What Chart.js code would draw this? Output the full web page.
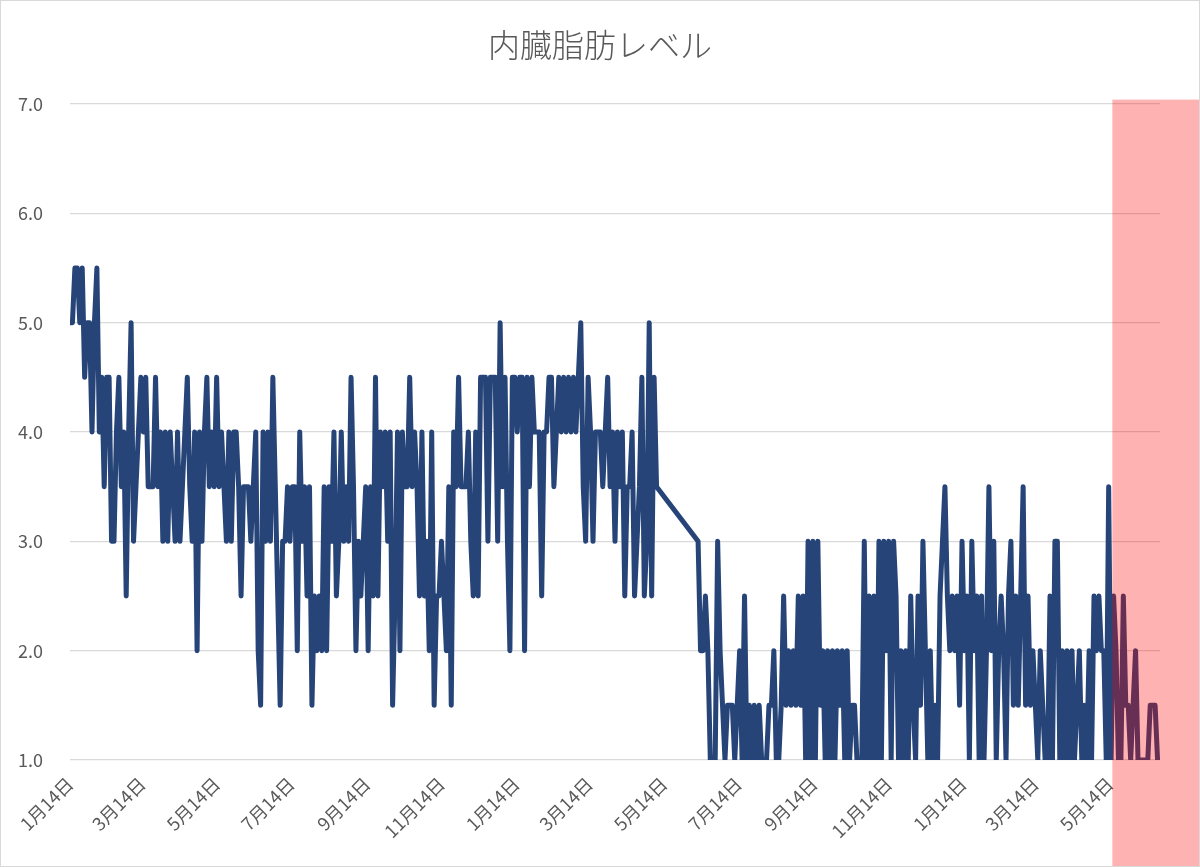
<!DOCTYPE html>
<html>
<head>
<meta charset="utf-8">
<script src="https://cdn.jsdelivr.net/npm/chart.js@4.4.1/dist/chart.umd.min.js"></script>
<style>
  html, body { margin: 0; padding: 0; background: #ffffff; }
  #wrap { width: 1200px; height: 867px; position: relative; }
</style>
</head>
<body>
<div id="wrap"><canvas id="c"></canvas></div>
<script>
// ---- data ----
const chartTitle = '内臓脂肪レベル';

// tick positions as day offsets from the first measurement (1月14日)
const tickDays   = [0, 59, 120, 181, 243, 304, 365, 425, 486, 547, 609, 670, 731, 790, 851];
const tickLabels = ['1月14日','3月14日','5月14日','7月14日','9月14日','11月14日',
                    '1月14日','3月14日','5月14日','7月14日','9月14日','11月14日',
                    '1月14日','3月14日','5月14日'];

const yMin = 1, yMax = 7;
const stepDays = 2;

// first period: day 0 .. 480, every 2 days
const startDayA = 0;
const levelsA = [
  5.0,5.0,5.5,5.5,5.0,5.5,4.5,5.0,5.0,4.0,
  5.0,5.5,4.0,4.5,3.5,4.5,4.5,3.0,3.0,4.0,
  4.5,3.5,4.0,2.5,4.0,5.0,3.0,3.5,4.0,4.5,
  4.0,4.5,3.5,3.5,3.5,4.5,3.5,4.0,3.0,4.0,
  3.0,4.0,3.5,3.0,4.0,3.0,3.5,4.0,4.5,3.5,
  3.0,4.0,2.0,4.0,3.0,4.0,4.5,3.5,4.0,3.5,
  4.5,3.5,4.0,3.5,3.0,4.0,3.0,4.0,4.0,3.5,
  2.5,3.5,3.5,3.5,3.0,3.5,4.0,2.0,1.5,4.0,
  3.0,4.0,3.0,4.5,3.5,2.5,1.5,3.0,3.0,3.5,
  3.0,3.5,3.5,2.0,4.0,3.0,3.5,2.5,3.5,1.5,
  2.5,2.0,2.5,2.0,3.5,2.0,3.5,3.0,4.0,2.5,
  3.0,4.0,3.0,3.5,3.0,4.5,3.5,2.0,3.0,2.5,
  3.0,3.5,2.0,3.5,2.5,4.5,2.5,4.0,3.5,4.0,
  3.0,4.0,1.5,2.5,4.0,2.0,4.0,3.5,3.5,4.5,
  3.5,4.0,3.5,2.5,4.0,2.5,3.0,2.0,4.0,1.5,
  2.5,2.5,3.0,2.5,2.0,3.5,1.5,4.0,3.5,4.5,
  3.5,3.5,3.5,4.0,3.0,2.5,4.0,2.5,4.5,4.5,
  4.5,3.0,4.5,4.5,4.5,3.0,5.0,3.5,4.5,3.0,
  2.0,4.5,4.5,4.0,4.5,4.5,2.0,4.5,3.5,4.5,
  4.0,4.0,4.0,2.5,4.0,4.0,4.5,4.5,3.5,4.0,
  4.5,4.0,4.5,4.0,4.5,4.0,4.5,4.0,4.5,5.0,
  3.5,3.0,4.5,4.0,3.0,4.0,4.0,4.0,3.5,4.0,
  4.5,3.5,4.0,3.0,4.0,3.5,4.0,2.5,3.5,3.5,
  4.0,2.5,3.0,3.5,4.5,2.5,3.0,5.0,2.5,4.5,3.5
];

// second period (after the gap): day 514 .. 892, every 2 days
const startDayB = 514;
const levelsB = [
  3.0,2.0,2.0,2.5,2.0,1.0,1.0,1.0,3.0,2.0,
  1.5,1.0,1.5,1.5,1.5,1.0,1.5,2.0,1.0,2.5,
  1.0,1.5,1.0,1.5,1.0,1.5,1.0,1.0,1.0,1.5,
  1.5,2.0,1.0,1.0,1.5,2.5,1.5,2.0,1.5,2.0,
  1.5,2.5,1.5,2.5,1.0,3.0,1.0,3.0,1.0,3.0,
  1.5,2.0,1.0,2.0,1.0,2.0,1.0,2.0,1.5,2.0,
  1.0,2.0,1.0,1.5,1.5,1.0,1.0,1.0,3.0,1.0,
  2.5,1.0,2.5,1.0,3.0,1.0,3.0,2.0,3.0,1.0,
  3.0,2.5,1.0,2.0,1.0,2.0,1.0,2.5,1.5,1.0,
  2.5,1.5,3.0,2.0,1.0,2.0,1.0,1.5,1.0,2.5,
  3.0,3.5,2.5,2.0,2.5,2.0,2.5,1.5,3.0,2.0,
  2.5,1.0,3.0,2.0,2.5,1.0,2.5,1.0,2.0,3.5,
  2.0,3.0,1.0,2.0,2.5,2.0,1.0,2.5,3.0,1.5,
  2.5,1.5,2.5,3.5,1.5,2.5,1.5,2.0,1.5,1.0,
  2.0,1.5,1.0,1.0,2.5,1.0,3.0,3.0,1.0,2.0,
  1.0,2.0,1.0,2.0,1.0,1.5,2.0,1.0,1.5,1.0,
  2.0,1.0,2.5,2.0,2.5,2.0,2.0,1.0,3.5,1.0,
  2.5,2.0,1.0,1.0,2.5,1.5,1.5,1.0,1.5,2.0,
  1.0,1.0,1.0,1.0,1.0,1.5,1.5,1.5,1.0,1.0
];

// highlighted recent period
const highlightFromDay = 853;
const highlightTopValue = 7.04;

// ---- build points ----
const points = [];
levelsA.forEach((v, i) => points.push({ x: startDayA + i * stepDays, y: v }));
levelsB.forEach((v, i) => points.push({ x: startDayB + i * stepDays, y: v }));
const lastDay = startDayB + (levelsB.length - 1) * stepDays;

const FONT = "'Noto Sans CJK JP', 'Noto Sans', sans-serif";
Chart.defaults.font.family = FONT;
Chart.defaults.color = '#595959';

// title centred on the whole picture, highlight band and outer frame
const overlay = {
  id: 'overlay',
  afterDraw(chart) {
    const { ctx, scales } = chart;
    const left = scales.x.getPixelForValue(highlightFromDay);
    const top = scales.y.getPixelForValue(highlightTopValue);
    ctx.save();
    ctx.fillStyle = 'rgba(255,0,0,0.3)';
    ctx.fillRect(left, top, chart.width - 1 - left, chart.height - top);
    ctx.strokeStyle = '#d9d9d9';
    ctx.lineWidth = 1;
    ctx.strokeRect(0.5, 0.5, chart.width - 1, chart.height - 1);
    ctx.fillStyle = '#595959';
    ctx.font = '300 32px ' + FONT;
    ctx.textAlign = 'center';
    ctx.textBaseline = 'middle';
    ctx.fillText(chartTitle, chart.width / 2, 45);
    ctx.restore();
  }
};

new Chart(document.getElementById('c'), {
  type: 'line',
  data: {
    datasets: [{
      data: points,
      borderColor: '#264478',
      borderWidth: 5,
      pointRadius: 0,
      tension: 0,
      borderJoinStyle: 'round',
      borderCapStyle: 'round',
      fill: false
    }]
  },
  options: {
    responsive: true,
    maintainAspectRatio: false,
    animation: false,
    layout: { padding: { left: 12, right: 40, top: 104, bottom: 0 } },
    plugins: {
      legend: { display: false },
      tooltip: { enabled: false },
      title: { display: false }
    },
    scales: {
      x: {
        type: 'linear',
        min: 0,
        max: lastDay,
        grid: { display: false },
        border: { display: false },
        afterBuildTicks(scale) {
          scale.ticks = tickDays.map(v => ({ value: v }));
        },
        afterFit(scale) { scale.height = 107; },
        ticks: {
          autoSkip: false,
          maxRotation: 45,
          minRotation: 45,
          padding: 5,
          color: '#595959',
          font: { size: 18 },
          callback(value) {
            const idx = tickDays.indexOf(value);
            return idx >= 0 ? tickLabels[idx] : '';
          }
        }
      },
      y: {
        min: yMin,
        max: yMax,
        grid: { color: '#d9d9d9', lineWidth: 1.3, drawTicks: false },
        border: { display: false },
        afterFit(scale) { scale.width = 58; },
        ticks: {
          stepSize: 1,
          padding: 27,
          color: '#595959',
          font: { size: 18 },
          callback(value) { return Number(value).toFixed(1); }
        }
      }
    }
  },
  plugins: [overlay]
});
</script>
</body>
</html>
